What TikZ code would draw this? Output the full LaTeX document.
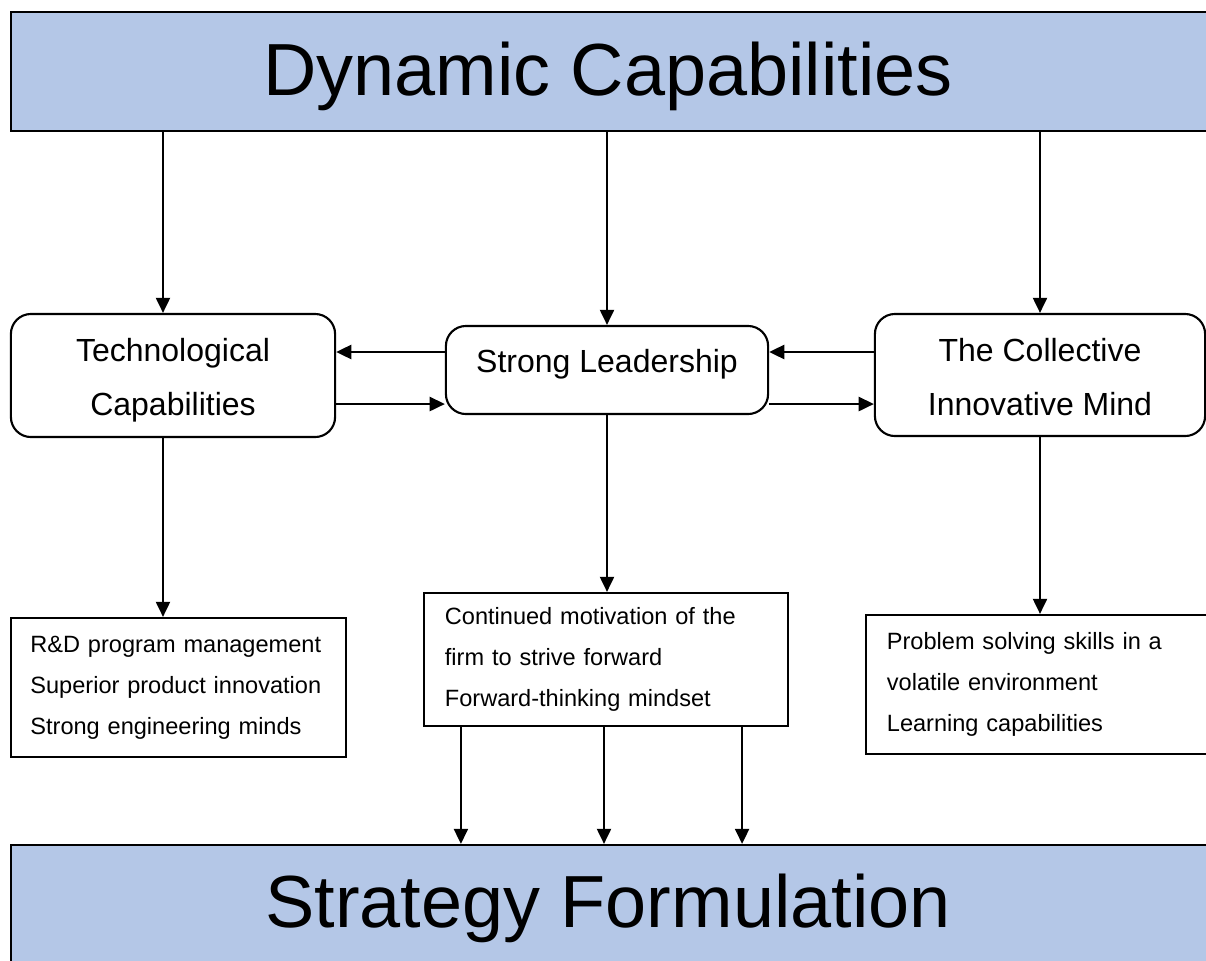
\documentclass[tikz,border=0pt]{standalone}
\usepackage{fontspec}
\setmainfont{Liberation Sans}
\usetikzlibrary{arrows.meta}

\definecolor{bannerblue}{RGB}{180,199,231}

\begin{document}
\begin{tikzpicture}[x=0.01cm, y=-0.01cm,
  banner/.style={draw=black, line width=0.6pt, fill=bannerblue, inner sep=0pt},
  bannertext/.style={font=\fontsize{21}{25}\selectfont},
  mainbox/.style={draw=black, line width=0.6pt, rounded corners=0.2cm, align=center,
    inner sep=0pt, font=\fontsize{9.1}{15.4}\selectfont},
  twoline/.style={text height=24.8pt, text depth=1.9pt},
  listbox/.style={draw=black, line width=0.6pt, align=left, inner ysep=0pt,
    font=\fontsize{6.7}{11.6}\selectfont},
  link/.style={->, >={Triangle[length=4.3pt,width=4pt]}, line width=0.6pt}]

\clip (0,0) rectangle (1206,960);

% banners (run off the right edge)
\node[banner, minimum width=12.3cm, minimum height=1.19cm] (dyn) at (626,71.5) {};
\node[bannertext] (dyntext) at (608,76) {Dynamic Capabilities};
\node[banner, minimum width=12.3cm, minimum height=1.6cm] (strat) at (626,925) {};
\node[bannertext] (strattext) at (608,908) {Strategy Formulation};

% middle row
\node[mainbox, twoline, minimum width=3.24cm, minimum height=1.23cm] (tech) at (173,375.5) {Technological\\Capabilities};
\node[mainbox, minimum width=3.22cm, minimum height=0.88cm, text height=0.23cm, text depth=0.19cm] (lead) at (607,370) {Strong Leadership};
\node[mainbox, twoline, minimum width=3.30cm, minimum height=1.22cm] (coll) at (1040,375) {The Collective\\Innovative Mind};

% lists
\node[listbox, text width=2.96cm, inner xsep=0.195cm, minimum height=1.39cm] (techlist) at (178.5,687.5)
  {R\&D program management\\Superior product innovation\\Strong engineering minds};
\node[listbox, text width=3.22cm, inner xsep=0.21cm, minimum height=1.33cm] (leadlist) at (606,659.5)
  {Continued motivation of the\\firm to strive forward\\Forward-thinking mindset};
\node[listbox, text width=3.18cm, inner xsep=0.21cm, minimum height=1.39cm] (colllist) at (1046,684.5)
  {Problem solving skills in a\\volatile environment\\Learning capabilities};

% Draw the links
\coordinate (techtop) at ([xshift=-0.1cm]tech.north);
\coordinate (techbot) at ([xshift=-0.1cm]tech.south);
\draw[link] (techtop |- dyn.south) -- (techtop);
\draw[link] (lead.north |- dyn.south) -- (lead.north);
\draw[link] (coll.north |- dyn.south) -- (coll.north);

\coordinate (leadupW) at ([yshift=0.18cm]lead.west);
\coordinate (leaddnW) at ([yshift=-0.34cm]lead.west);
\coordinate (leadupE) at ([yshift=0.18cm]lead.east);
\coordinate (leaddnE) at ([yshift=-0.34cm]lead.east);
\draw[link] (leadupW) -- (leadupW -| tech.east);
\draw[link] (leaddnW -| tech.east) -- (leaddnW);
\draw[link] (leadupE -| coll.west) -- (leadupE);
\draw[link] (leaddnE) -- (leaddnE -| coll.west);

\draw[link] (techbot) -- (techbot |- techlist.north);
\draw[link] (lead.south) -- (lead.south |- leadlist.north);
\draw[link] (coll.south) -- (coll.south |- colllist.north);

\foreach \dx in {-1.45,-0.02,1.36} {
  \coordinate (out) at ([xshift=\dx cm]leadlist.south);
  \draw[link] (out) -- (out |- strat.north);
}

\end{tikzpicture}
\end{document}
